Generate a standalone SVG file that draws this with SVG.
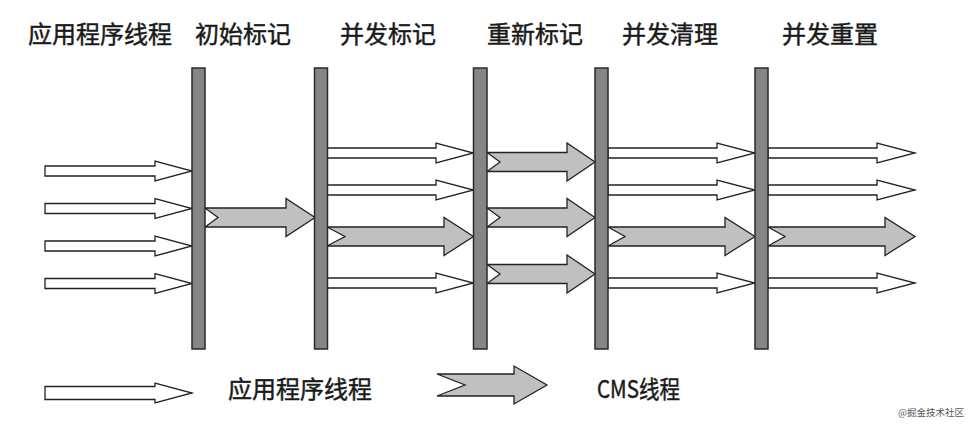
<svg xmlns="http://www.w3.org/2000/svg" width="977" height="428" viewBox="0 0 977 428">
<style>
.lbl{font-family:"Noto Sans CJK SC","Noto Sans",sans-serif;font-size:24px;fill:#1a1a1a;stroke:#1a1a1a;stroke-width:0.45;}
.bar{fill:#858585;stroke:#2a2a2a;stroke-width:1.5;}
.wa{fill:#fff;stroke:#222;stroke-width:1.3;stroke-linejoin:miter;}
.ga{fill:#c0c0c0;stroke:#222;stroke-width:1.3;stroke-linejoin:miter;}
.wm{font-family:"Noto Sans CJK SC","Noto Sans",sans-serif;font-size:9.5px;fill:#555;}
</style>
<rect width="977" height="428" fill="#fff"/>
<g id="labels">
<text class="lbl" x="28" y="43">应用程序线程</text>
<text class="lbl" x="195" y="43">初始标记</text>
<text class="lbl" x="340" y="43">并发标记</text>
<text class="lbl" x="487" y="43">重新标记</text>
<text class="lbl" x="622" y="43">并发清理</text>
<text class="lbl" x="782" y="43">并发重置</text>
</g>
<g id="connectors">
<path class="wa" d="M45,166 L155,166 L155,161 L192,171 L155,181 L155,176 L45,176 Z"/>
<path class="wa" d="M45,203.5 L155,203.5 L155,198.5 L192,208.5 L155,218.5 L155,213.5 L45,213.5 Z"/>
<path class="wa" d="M45,241 L155,241 L155,236 L192,246 L155,256 L155,251 L45,251 Z"/>
<path class="wa" d="M45,278.5 L155,278.5 L155,273.5 L192,283.5 L155,293.5 L155,288.5 L45,288.5 Z"/>
<path class="ga" d="M205,208 L286,208 L286,198.5 L315,217.5 L286,236.5 L286,227 L205,227 L218,217.5 Z"/>
<path class="wa" d="M327,148 L436,148 L436,143 L473.5,153 L436,163 L436,158 L327,158 Z"/>
<path class="wa" d="M327,185 L436,185 L436,180 L473.5,190 L436,200 L436,195 L327,195 Z"/>
<path class="ga" d="M327,227 L444,227 L444,217.5 L473.5,236.5 L444,255.5 L444,246 L327,246 L345,236.5 Z"/>
<path class="wa" d="M327,278 L436,278 L436,273 L473.5,283 L436,293 L436,288 L327,288 Z"/>
<path class="ga" d="M487,152.5 L567,152.5 L567,143 L595,162 L567,181 L567,171.5 L487,171.5 L500,162 Z"/>
<path class="ga" d="M487,208 L567,208 L567,198.5 L595,217.5 L567,236.5 L567,227 L487,227 L500,217.5 Z"/>
<path class="ga" d="M487,264.5 L567,264.5 L567,255 L595,274 L567,293 L567,283.5 L487,283.5 L500,274 Z"/>
<path class="wa" d="M608,148 L717,148 L717,143 L755,153 L717,163 L717,158 L608,158 Z"/>
<path class="wa" d="M608,185 L717,185 L717,180 L755,190 L717,200 L717,195 L608,195 Z"/>
<path class="ga" d="M608,227 L725,227 L725,217.5 L755,236.5 L725,255.5 L725,246 L608,246 L625,236.5 Z"/>
<path class="wa" d="M608,278 L717,278 L717,273 L755,283 L717,293 L717,288 L608,288 Z"/>
<path class="wa" d="M768,148 L877,148 L877,143 L915,153 L877,163 L877,158 L768,158 Z"/>
<path class="wa" d="M768,185 L877,185 L877,180 L915,190 L877,200 L877,195 L768,195 Z"/>
<path class="ga" d="M768,227 L885,227 L885,217.5 L915,236.5 L885,255.5 L885,246 L768,246 L785,236.5 Z"/>
<path class="wa" d="M768,278 L877,278 L877,273 L915,283 L877,293 L877,288 L768,288 Z"/>
</g>
<g id="bar-initial-mark"><rect class="bar" x="192" y="68" width="13" height="281"/></g>
<g id="bar-concurrent-mark"><rect class="bar" x="314.5" y="68" width="13" height="281"/></g>
<g id="bar-remark"><rect class="bar" x="473.5" y="68" width="13.5" height="281"/></g>
<g id="bar-concurrent-sweep"><rect class="bar" x="595" y="68" width="13" height="281"/></g>
<g id="bar-concurrent-reset"><rect class="bar" x="755" y="68" width="13" height="281"/></g>
<g id="legend">
<path class="wa" d="M45,386.5 L155,386.5 L155,383 L192,393 L155,403 L155,399.5 L45,399.5 Z"/>
<text class="lbl" x="228" y="398">应用程序线程</text>
<path class="ga" d="M437,374 L514,374 L514,366 L547,385 L514,404 L514,396 L437,396 L465,385 Z"/>
<text class="lbl" x="597" y="398" textLength="83" lengthAdjust="spacingAndGlyphs">CMS线程</text>
</g>
<text class="wm" x="898" y="416">@掘金技术社区</text>
</svg>
